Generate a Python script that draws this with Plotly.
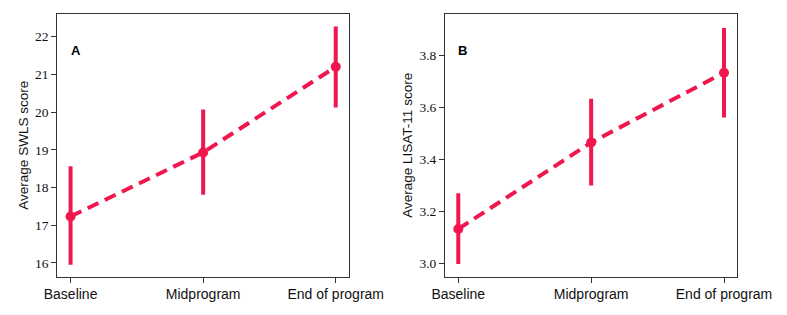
import plotly.graph_objects as go

timepoints = ["Baseline", "Midprogram", "End of program"]

swls_mean = [17.23, 18.93, 21.20]
swls_upper = [18.56, 20.07, 22.27]
swls_lower = [15.95, 17.81, 20.12]

lisat_mean = [3.131, 3.464, 3.733]
lisat_upper = [3.269, 3.633, 3.905]
lisat_lower = [2.996, 3.298, 3.560]

swls_ticks = [16, 17, 18, 19, 20, 21, 22]
lisat_ticks = [3.0, 3.2, 3.4, 3.6, 3.8]
lisat_ticklabels = ["3.0", "3.2", "3.4", "3.6", "3.8"]

color = "#F0174F"
xs = [0, 1, 2]

fig = go.Figure()


def add_panel(mean, upper, lower, xa, ya):
    fig.add_trace(go.Scatter(
        x=xs, y=mean, mode="lines+markers", xaxis=xa, yaxis=ya,
        line=dict(color=color, width=4, dash="12px,7px"),
        marker=dict(color=color, size=10),
        error_y=dict(type="data", symmetric=False,
                     array=[u - m for u, m in zip(upper, mean)],
                     arrayminus=[m - l for m, l in zip(mean, lower)],
                     color=color, thickness=4, width=0),
        showlegend=False, hoverinfo="skip"))


add_panel(swls_mean, swls_upper, swls_lower, "x", "y")
add_panel(lisat_mean, lisat_upper, lisat_lower, "x2", "y2")

axis_common = dict(showline=True, mirror=True, linecolor="#333333", linewidth=1,
                   ticks="outside", ticklen=5, tickcolor="#333333",
                   showgrid=False, zeroline=False, automargin=False)

xfont = dict(family="Liberation Sans, Arial, sans-serif", size=14, color="#111")
yfont = dict(family="Liberation Serif, serif", size=13.5, color="#111")
tfont = dict(family="Liberation Sans, Arial, sans-serif", size=13.5, color="#111")
lfont = dict(family="Liberation Sans, Arial, sans-serif", size=13, color="black")

ydom = [1 - 276.5 / 315, 1 - 14 / 315]

fig.update_layout(
    width=787, height=315,
    margin=dict(l=0, r=0, t=0, b=0),
    paper_bgcolor="white", plot_bgcolor="white",
    xaxis=dict(domain=[57.3 / 787, 349 / 787], range=[-0.1, 2.1],
               tickvals=xs, ticktext=timepoints, tickfont=xfont,
               anchor="y", **axis_common),
    yaxis=dict(domain=ydom, range=[15.64, 22.60], tickvals=swls_ticks,
               tickfont=yfont,
               title=dict(text="Average SWLS score", standoff=3, font=tfont),
               anchor="x", **axis_common),
    xaxis2=dict(domain=[445 / 787, 737.3 / 787], range=[-0.1, 2.1],
                tickvals=xs, ticktext=timepoints, tickfont=xfont,
                anchor="y2", **axis_common),
    yaxis2=dict(domain=ydom, range=[2.948, 3.959], tickvals=lisat_ticks,
                ticktext=lisat_ticklabels, tickfont=yfont,
                title=dict(text="Average LISAT-11 score", standoff=3, font=tfont),
                anchor="x2", **axis_common),
    annotations=[
        dict(text="<b>A</b>", x=76 / 787, y=1 - 51 / 315, xref="paper", yref="paper",
             xanchor="center", yanchor="middle", showarrow=False, font=lfont),
        dict(text="<b>B</b>", x=462.3 / 787, y=1 - 51 / 315, xref="paper", yref="paper",
             xanchor="center", yanchor="middle", showarrow=False, font=lfont),
    ],
)

fig.write_html("out.html", config={"displayModeBar": False},
               post_script="document.body.style.margin='0';document.body.style.overflow='hidden';")
